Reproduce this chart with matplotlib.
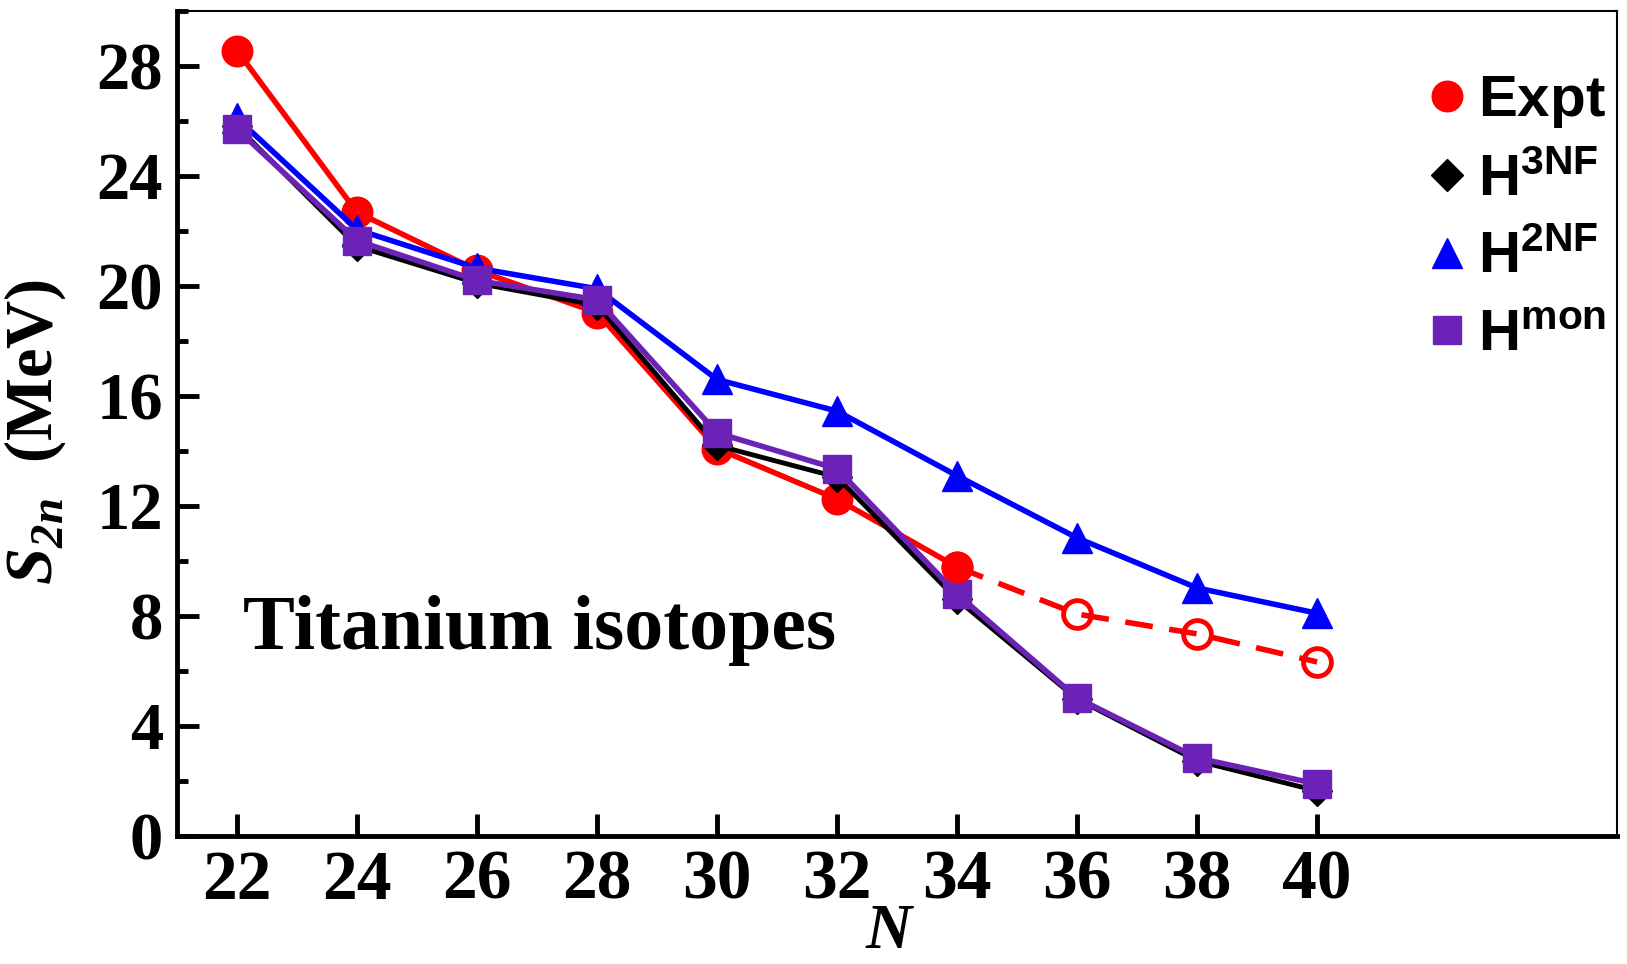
import matplotlib
matplotlib.use('Agg')
import matplotlib.pyplot as plt
from matplotlib.lines import Line2D

plt.rcParams['mathtext.fontset'] = 'custom'
plt.rcParams['mathtext.bf'] = 'Liberation Sans:bold'
plt.rcParams['mathtext.bfit'] = 'Liberation Serif:italic:bold'
plt.rcParams['mathtext.rm'] = 'Liberation Sans'

# neutron number
N = [22, 24, 26, 28, 30, 32, 34]
N_ext = [34, 36, 38, 40]
N_all = [22, 24, 26, 28, 30, 32, 34, 36, 38, 40]

# S2n (MeV)
expt = [28.56, 22.68, 20.57, 19.03, 14.09, 12.25, 9.78]
expt_ext = [9.78, 8.07, 7.35, 6.33]
h3nf = [25.8, 21.45, 20.1, 19.3, 14.2, 13.05, 8.6, 4.98, 2.73, 1.64]
h2nf = [26.1, 22.05, 20.65, 19.9, 16.6, 15.45, 13.1, 10.84, 9.02, 8.1]
hmon = [25.7, 21.65, 20.2, 19.5, 14.66, 13.35, 8.8, 5.02, 2.84, 1.89]

y_major = [0, 4, 8, 12, 16, 20, 24, 28]
y_minor = [2, 6, 10, 14, 18, 22, 26, 30]

RED = '#ff0000'
BLUE = '#0000ff'
PURPLE = '#6c22b6'

fig = plt.figure(figsize=(16.27, 9.64), dpi=100)
ax = fig.add_axes([0.1088, 0.1328, 0.8851, 0.8558])

ax.plot(N, expt, '-o', color=RED, lw=4, ms=22)
ax.plot(N_all, h3nf, '-D', color='black', lw=3.5, ms=15)
ax.plot(N_all, h2nf, '-^', color=BLUE, lw=4, ms=22)
ax.plot(N_all, hmon, '-s', color=PURPLE, lw=4, ms=20)
ax.plot(N_ext[1:], expt_ext[1:], 'o', color=RED, ms=20, mfc='none', mew=3.5)
ax.plot(N_ext, expt_ext, '-', color=RED, lw=4, dashes=(5, 3))
ax.plot(N_ext[:1], expt_ext[:1], 'o', color=RED, ms=22)

ax.set_xlim(21, 45)
ax.set_ylim(0, 30)
ax.set_xticks(N_all)
ax.set_yticks(y_major)
ax.set_yticks(y_minor, minor=True)

serif = {'family': 'Liberation Serif', 'weight': 'bold'}
ax.set_xticklabels([str(n) for n in N_all], fontdict=dict(serif, size=50))
ax.set_yticklabels([str(v) for v in y_major], fontdict=dict(serif, size=48))
ax.tick_params(which='major', direction='in', length=16, width=3.5, pad=10)
ax.tick_params(which='minor', direction='in', length=8, width=3.5)
ax.tick_params(which='both', top=False, right=False)

for s in ['left', 'bottom']:
    ax.spines[s].set_linewidth(3.5)
for s in ['top', 'right']:
    ax.spines[s].set_linewidth(1.5)

ax.set_xlabel('N', fontsize=46, fontfamily='Liberation Serif', fontweight='bold',
              fontstyle='italic')
ax.xaxis.set_label_coords(0.494, -0.082)
ax.set_ylabel(r'$\mathbfit{S}_{\mathbfit{2n}}$  (MeV)', fontsize=48,
              fontfamily='Liberation Serif', fontweight='bold')
ax.yaxis.set_label_coords(-0.076, 0.49)

ax.text(22.1, 6.8, 'Titanium isotopes', fontsize=56, fontfamily='Liberation Serif',
        fontweight='bold', ha='left', va='baseline')

handles = [
    Line2D([], [], ls='none', marker='o', color=RED, ms=22),
    Line2D([], [], ls='none', marker='D', color='black', ms=16),
    Line2D([], [], ls='none', marker='^', color=BLUE, ms=22),
    Line2D([], [], ls='none', marker='s', color=PURPLE, ms=20),
]
labels = [r'$\mathbf{Expt}$', r'$\mathbf{H^{3NF}}$', r'$\mathbf{H^{2NF}}$', r'$\mathbf{H^{mon}}$']
ax.legend(handles, labels, loc='upper left', bbox_to_anchor=(0.866, 0.927), frameon=False,
          fontsize=42, handlelength=0.8, handletextpad=0.12, labelspacing=0.35,
          borderaxespad=0, borderpad=0)

fig.savefig('out.png', dpi=100)
